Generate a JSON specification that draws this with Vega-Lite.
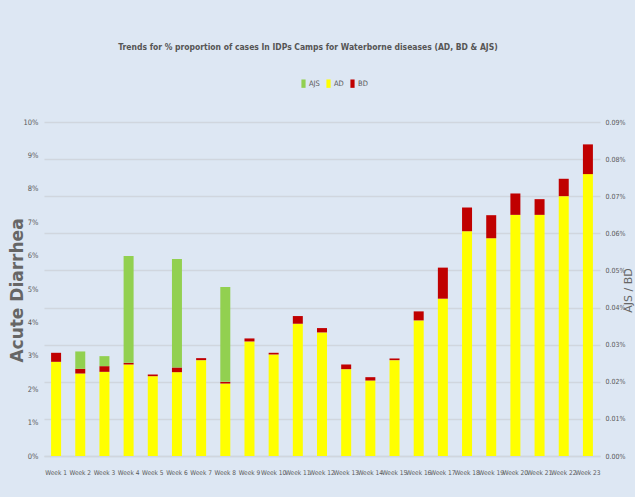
{
  "$schema": "https://vega.github.io/schema/vega-lite/v6.json",
  "width": 556,
  "height": 334,
  "autosize": {"type": "none"},
  "padding": {"left": 44, "top": 122, "right": 35, "bottom": 41},
  "background": "#DDE7F3",
  "config": {"view": {"stroke": null}},
  "title": {
    "text": "Trends for % proportion of cases In IDPs Camps for Waterborne diseases (AD, BD & AJS)",
    "font": "DejaVu Sans Condensed, sans-serif",
    "fontSize": 8.5,
    "fontWeight": "bold",
    "color": "#555555",
    "anchor": "middle",
    "dx": -14,
    "offset": 28
  },
  "layer": [
    {
      "data": {
        "values": [
          {"week": "Week 1", "series": "AD", "value": 0.0282},
          {"week": "Week 1", "series": "BD", "value": 0.0027},
          {"week": "Week 2", "series": "AD", "value": 0.0247},
          {"week": "Week 2", "series": "BD", "value": 0.0014},
          {"week": "Week 2", "series": "AJS", "value": 0.0052},
          {"week": "Week 3", "series": "AD", "value": 0.0252},
          {"week": "Week 3", "series": "BD", "value": 0.0017},
          {"week": "Week 3", "series": "AJS", "value": 0.0030},
          {"week": "Week 4", "series": "AD", "value": 0.0274},
          {"week": "Week 4", "series": "BD", "value": 0.0005},
          {"week": "Week 4", "series": "AJS", "value": 0.0320},
          {"week": "Week 5", "series": "AD", "value": 0.0239},
          {"week": "Week 5", "series": "BD", "value": 0.0005},
          {"week": "Week 6", "series": "AD", "value": 0.0251},
          {"week": "Week 6", "series": "BD", "value": 0.0014},
          {"week": "Week 6", "series": "AJS", "value": 0.0325},
          {"week": "Week 7", "series": "AD", "value": 0.0287},
          {"week": "Week 7", "series": "BD", "value": 0.0006},
          {"week": "Week 8", "series": "AD", "value": 0.0217},
          {"week": "Week 8", "series": "BD", "value": 0.0005},
          {"week": "Week 8", "series": "AJS", "value": 0.0284},
          {"week": "Week 9", "series": "AD", "value": 0.0343},
          {"week": "Week 9", "series": "BD", "value": 0.0009},
          {"week": "Week 10", "series": "AD", "value": 0.0304},
          {"week": "Week 10", "series": "BD", "value": 0.0005},
          {"week": "Week 11", "series": "AD", "value": 0.0396},
          {"week": "Week 11", "series": "BD", "value": 0.0023},
          {"week": "Week 12", "series": "AD", "value": 0.0370},
          {"week": "Week 12", "series": "BD", "value": 0.0013},
          {"week": "Week 13", "series": "AD", "value": 0.0260},
          {"week": "Week 13", "series": "BD", "value": 0.0014},
          {"week": "Week 14", "series": "AD", "value": 0.0226},
          {"week": "Week 14", "series": "BD", "value": 0.0010},
          {"week": "Week 15", "series": "AD", "value": 0.0287},
          {"week": "Week 15", "series": "BD", "value": 0.0005},
          {"week": "Week 16", "series": "AD", "value": 0.0406},
          {"week": "Week 16", "series": "BD", "value": 0.0027},
          {"week": "Week 17", "series": "AD", "value": 0.0471},
          {"week": "Week 17", "series": "BD", "value": 0.0093},
          {"week": "Week 18", "series": "AD", "value": 0.0673},
          {"week": "Week 18", "series": "BD", "value": 0.0071},
          {"week": "Week 19", "series": "AD", "value": 0.0652},
          {"week": "Week 19", "series": "BD", "value": 0.0069},
          {"week": "Week 20", "series": "AD", "value": 0.0722},
          {"week": "Week 20", "series": "BD", "value": 0.0064},
          {"week": "Week 21", "series": "AD", "value": 0.0722},
          {"week": "Week 21", "series": "BD", "value": 0.0047},
          {"week": "Week 22", "series": "AD", "value": 0.0778},
          {"week": "Week 22", "series": "BD", "value": 0.0052},
          {"week": "Week 23", "series": "AD", "value": 0.0844},
          {"week": "Week 23", "series": "BD", "value": 0.0089}
        ]
      },
      "transform": [
        {"calculate": "indexof(['AD', 'BD', 'AJS'], datum.series)", "as": "stackRank"}
      ],
      "mark": {"type": "bar", "width": 10},
      "encoding": {
        "x": {
          "field": "week",
          "type": "ordinal",
          "sort": null,
          "axis": {
            "title": null,
            "labelAngle": 0,
            "labelFont": "DejaVu Sans Condensed, sans-serif",
            "labelFontSize": 6.5,
            "labelColor": "#595959",
            "labelPadding": 13,
            "labelOverlap": false,
            "ticks": false,
            "domainColor": "#D0D6DE",
            "domainWidth": 1.5
          }
        },
        "y": {
          "field": "value",
          "type": "quantitative",
          "stack": "zero",
          "scale": {"domain": [0, 0.1], "nice": false},
          "axis": {
            "title": "Acute Diarrhea",
            "titleFont": "DejaVu Sans",
            "titleFontSize": 17,
            "titleFontWeight": "bold",
            "titleColor": "#666666",
            "titleX": -22,
            "titleY": 168,
            "titleBaseline": "alphabetic",
            "titleAngle": 270,
            "format": ".0%",
            "values": [0, 0.01, 0.02, 0.03, 0.04, 0.05, 0.06, 0.07, 0.08, 0.09, 0.1],
            "grid": false,
            "ticks": false,
            "domain": false,
            "labelFont": "DejaVu Sans Condensed, sans-serif",
            "labelFontSize": 7.5,
            "labelColor": "#595959",
            "labelPadding": 6
          }
        },
        "order": {"field": "stackRank", "type": "quantitative", "sort": "ascending"},
        "color": {
          "field": "series",
          "type": "nominal",
          "scale": {"domain": ["AJS", "AD", "BD"], "range": ["#92D050", "#FFFF00", "#C00000"]},
          "legend": {
            "title": null,
            "orient": "none",
            "legendX": 255,
            "legendY": -43,
            "direction": "horizontal",
            "symbolType": "M-0.5,-1H0.5V1H-0.5Z",
            "symbolSize": 70,
            "symbolStrokeWidth": 0,
            "labelFont": "DejaVu Sans Condensed, sans-serif",
            "labelFontSize": 7.5,
            "labelColor": "#595959",
            "labelOffset": 1,
            "columnPadding": 4
          }
        }
      }
    },
    {
      "data": {"values": [{"r": 0}]},
      "mark": {"type": "point", "opacity": 0},
      "encoding": {
        "y": {
          "field": "r",
          "type": "quantitative",
          "scale": {"domain": [0, 0.0009], "nice": false},
          "axis": {
            "orient": "right",
            "title": "AJS / BD",
            "titleFont": "DejaVu Sans",
            "titleFontSize": 11,
            "titleFontWeight": "normal",
            "titleColor": "#666666",
            "titleX": 31,
            "titleY": 168,
            "titleBaseline": "alphabetic",
            "titleAngle": 270,
            "format": ".2%",
            "values": [0, 0.0001, 0.0002, 0.0003, 0.0004, 0.0005, 0.0006, 0.0007, 0.0008, 0.0009],
            "grid": true,
            "gridColor": "#D0D6DE",
            "gridWidth": 1.5,
            "ticks": false,
            "domain": false,
            "labelFont": "DejaVu Sans Condensed, sans-serif",
            "labelFontSize": 7,
            "labelColor": "#595959",
            "labelPadding": 5
          }
        }
      }
    }
  ],
  "resolve": {"scale": {"y": "independent"}}
}
